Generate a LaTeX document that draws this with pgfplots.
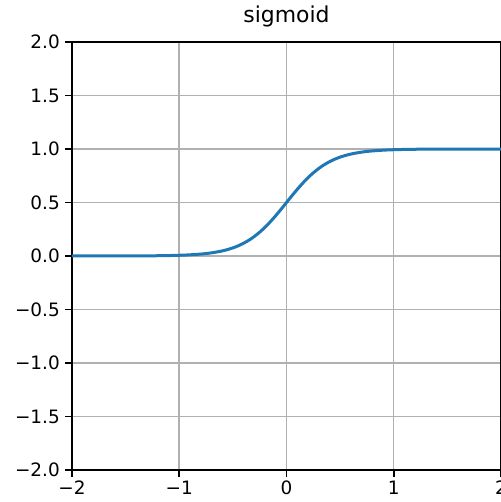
\documentclass[border=0pt]{standalone}
\usepackage{fontspec}
\setmainfont{DejaVu Sans}
\usepackage{pgfplots}
\pgfplotsset{compat=1.18}
\definecolor{mplblue}{HTML}{1F77B4}
\definecolor{gridgray}{HTML}{B0B0B0}
\begin{document}
\begin{tikzpicture}
\begin{axis}[
  at={(0,0)}, anchor=south west,
  scale only axis,
  width=429bp, height=428bp,
  xmin=-2, xmax=2, ymin=-2, ymax=2,
  xtick={-2,-1,0,1,2},
  xticklabels={−2,−1,0,1,2},
  ytick={-2,-1.5,-1,-0.5,0,0.5,1,1.5,2},
  yticklabels={−2.0,−1.5,−1.0,−0.5,0.0,0.5,1.0,1.5,2.0},
  xtick pos=bottom, ytick pos=left,
  tick align=outside,
  major tick length=7bp,
  every tick/.style={black, line width=1.6bp},
  axis line style={black, line width=1.6bp},
  grid=major,
  major grid style={gridgray, line width=1.5bp},
  xticklabel style={font=\fontsize{18.5}{20}\selectfont, inner sep=0pt, anchor=north, yshift=-4bp},
  yticklabel style={font=\fontsize{18.5}{20}\selectfont, inner sep=0pt, anchor=east, xshift=-5bp},
  title={sigmoid},
  title style={font=\fontsize{22}{24}\selectfont, at={(0.5,1)}, anchor=base, yshift=14bp, inner sep=0pt},
  clip=false,
]
\addplot[mplblue, line width=3bp, smooth] coordinates {
(-2.0,0.0000454) (-1.9,0.0000749) (-1.8,0.000123) (-1.7,0.000203) (-1.6,0.000335)
(-1.5,0.000553) (-1.4,0.000911) (-1.3,0.001501) (-1.2,0.002473) (-1.1,0.004070)
(-1.0,0.006693) (-0.9,0.010987) (-0.8,0.017986) (-0.75,0.022977) (-0.7,0.029312)
(-0.65,0.037327) (-0.6,0.047426) (-0.55,0.060087) (-0.5,0.075858) (-0.45,0.095349)
(-0.4,0.119203) (-0.35,0.148047) (-0.3,0.182426) (-0.25,0.222700) (-0.2,0.268941)
(-0.15,0.320821) (-0.1,0.377541) (-0.05,0.437823) (0,0.5)
(0.05,0.562177) (0.1,0.622459) (0.15,0.679179) (0.2,0.731059) (0.25,0.777300)
(0.3,0.817574) (0.35,0.851953) (0.4,0.880797) (0.45,0.904651) (0.5,0.924142)
(0.55,0.939913) (0.6,0.952574) (0.65,0.962673) (0.7,0.970688) (0.75,0.977023)
(0.8,0.982014) (0.9,0.989013) (1.0,0.993307) (1.1,0.995930) (1.2,0.997527)
(1.3,0.998499) (1.4,0.999089) (1.5,0.999447) (1.6,0.999665) (1.7,0.999797)
(1.8,0.999877) (1.9,0.999925) (2.0,0.999955)
};
\end{axis}
\pgfresetboundingbox
\useasboundingbox (-72bp,-32bp) rectangle (429bp,470bp);
\end{tikzpicture}
\end{document}
